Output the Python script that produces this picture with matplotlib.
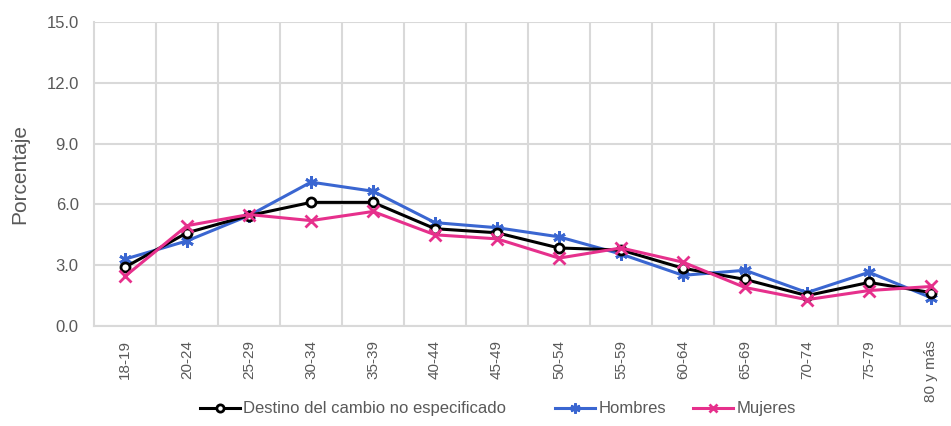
import numpy as np
import matplotlib.pyplot as plt
from matplotlib.ticker import FormatStrFormatter, FixedLocator

plt.rcParams['font.family'] = ['Liberation Sans Narrow', 'Liberation Sans', 'DejaVu Sans']

# Data
grupos = ['18-19', '20-24', '25-29', '30-34', '35-39', '40-44', '45-49',
          '50-54', '55-59', '60-64', '65-69', '70-74', '75-79', '80 y más']
no_especificado = [2.9, 4.6, 5.45, 6.1, 6.1, 4.8, 4.6, 3.85, 3.75, 2.85, 2.3, 1.5, 2.15, 1.65]
hombres = [3.3, 4.2, 5.45, 7.1, 6.65, 5.1, 4.85, 4.4, 3.55, 2.5, 2.75, 1.65, 2.65, 1.4]
mujeres = [2.45, 4.95, 5.5, 5.2, 5.65, 4.5, 4.3, 3.35, 3.85, 3.15, 1.9, 1.3, 1.75, 1.95]

gris = '#595959'
rejilla = '#D9D9D9'
azul = '#3A66D1'
rosa = '#E6308C'

fig = plt.figure(figsize=(9.51, 4.26), dpi=100)
ax = fig.add_axes([94/951, 100/426, 868/951, 304/426])

x = np.arange(len(grupos))
l1, = ax.plot(x, no_especificado, color='black', lw=2.2, marker='o', ms=6.5,
              mfc='white', mec='black', mew=2, label='Destino del cambio no especificado', zorder=4)
l2, = ax.plot(x, hombres, color=azul, lw=2.2, marker=(6, 2, 0), ms=9,
              mec=azul, mew=2, label='Hombres', zorder=3)
l3, = ax.plot(x, mujeres, color=rosa, lw=2.2, marker='x', ms=8,
              mec=rosa, mew=2, label='Mujeres', zorder=5)

ax.set_xlim(-0.5, len(grupos) - 0.5)
ax.set_ylim(0, 15)
ax.set_yticks(np.arange(0, 15.1, 3))
ax.yaxis.set_major_formatter(FormatStrFormatter('%.1f'))
ax.set_xticks(x)
ax.set_xticklabels(grupos, rotation=90)
ax.xaxis.set_minor_locator(FixedLocator(x[:-1] + 0.5))

ax.grid(axis='y', which='major', color=rejilla, lw=1.5)
ax.grid(axis='x', which='minor', color=rejilla, lw=1.5)
ax.set_axisbelow(True)
for lado in ['top', 'right']:
    ax.spines[lado].set_visible(False)
for lado in ['left', 'bottom']:
    ax.spines[lado].set_color(rejilla)
    ax.spines[lado].set_linewidth(1.5)

ax.tick_params(axis='y', which='both', length=0, labelsize=12, colors=gris, pad=11)
ax.tick_params(axis='x', which='both', length=0, labelsize=11, colors=gris, pad=10)
ax.set_ylabel('Porcentaje', fontsize=15, color=gris, labelpad=12)

# one legend per entry, placed like the reference
for linea, x0 in [(l1, 200), (l2, 555), (l3, 693)]:
    fig.legend(handles=[linea], loc='center left', bbox_to_anchor=(x0/951, 0.04),
               frameon=False, fontsize=12, labelcolor=gris, handlelength=2.4,
               handletextpad=0.2, borderpad=0, borderaxespad=0, markerscale=0.8)

fig.savefig('out.png', dpi=100)
